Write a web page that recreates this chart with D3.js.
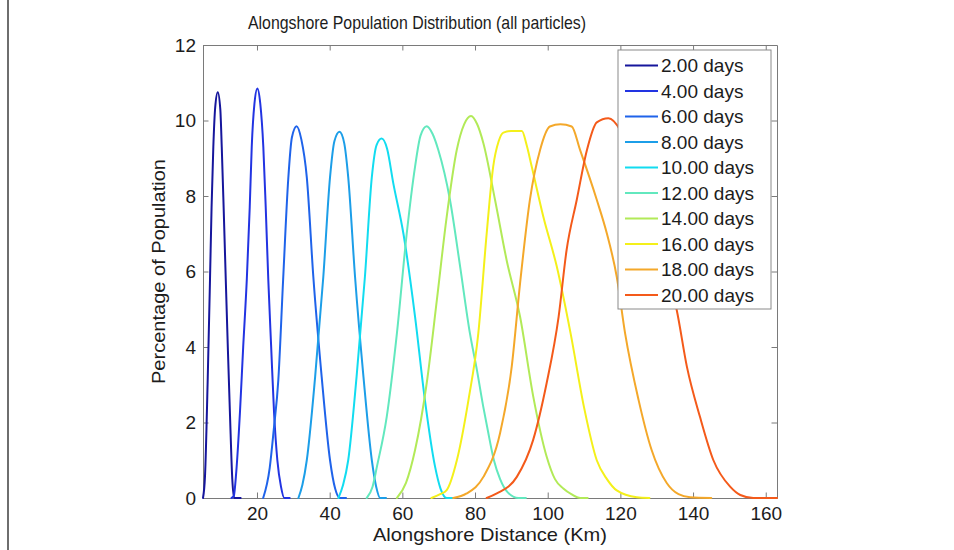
<!DOCTYPE html>
<html>
<head>
<meta charset="utf-8">
<script src="https://cdn.jsdelivr.net/npm/d3@7"></script>
<style>
  html, body { margin: 0; padding: 0; background: #ffffff; }
  svg { display: block; font-family: "Liberation Sans", Arial, Helvetica, sans-serif; }
</style>
</head>
<body>
<svg id="chart" width="954" height="550"></svg>
<script>
// ---- data: alongshore distance (km) and share of population (%) per release age ----
const days = [2, 4, 6, 8, 10, 12, 14, 16, 18, 20];
const colors = ["#16169c", "#2234e2", "#1f63ea", "#1c9ee8", "#12dcf0",
                "#62e8be", "#b2ea58", "#f4f01a", "#f4a82a", "#f45a1a"];
const xTicks = [20, 40, 60, 80, 100, 120, 140, 160];
const yTicks = [0, 2, 4, 6, 8, 10, 12];

const dist02 = [5.14, 5.7, 6.4, 7.07, 7.5, 7.98, 8.5, 9.2, 9.9, 10.3, 10.85, 11.4, 12.0, 12.57, 13.2, 13.7, 15.5];
const pop02  = [0, 0.6, 3.0, 5.8, 7.7, 9.3, 10.35, 10.75, 10.3, 9.3, 7.6, 5.8, 3.9, 2.2, 0.5, 0, 0];

const dist04 = [13.0, 13.6, 14.3, 15.3, 16.2, 17.2, 18.0, 18.55, 19.3, 20.1, 20.9, 21.74, 22.4, 23.1, 23.9, 24.7, 25.6, 26.6, 27.5, 29.0];
const pop04  = [0, 0.05, 0.7, 2.25, 4.0, 5.8, 7.7, 9.3, 10.45, 10.85, 10.45, 9.3, 7.7, 5.8, 4.0, 2.25, 1.0, 0.3, 0, 0];

const dist06 = [21.7, 23.5, 24.6, 25.87, 27.2, 28.6, 29.6, 30.9, 32.2, 33.7, 35.5, 37.8, 40.1, 41.5, 42.8, 44.5];
const pop06  = [0, 0.8, 1.8, 3.13, 5.8, 8.45, 9.55, 9.85, 9.5, 8.5, 5.86, 3.21, 1.0, 0.25, 0, 0];

const dist08 = [31.4, 32.5, 33.7, 36.0, 38.25, 40.1, 41.3, 42.7, 44.0, 45.1, 46.98, 49.3, 51.6, 52.8, 53.9, 55.5];
const pop08  = [0, 0.35, 1.0, 3.21, 5.86, 8.5, 9.45, 9.7, 9.4, 8.5, 5.86, 3.21, 1.0, 0.3, 0, 0];

const dist10 = [42.4, 43.7, 45.1, 47.4, 49.7, 51.6, 52.9, 54.3, 55.8, 57.5, 60.3, 63.5, 66.2, 69.0, 70.5, 72.2, 74.0];
const pop10  = [0, 0.35, 1.0, 3.21, 5.86, 8.5, 9.35, 9.52, 9.25, 8.34, 7.0, 4.8, 2.6, 0.83, 0.25, 0, 0];

const dist12 = [50.2, 51.8, 53.0, 55.7, 58.5, 61.2, 63.5, 65.0, 66.7, 68.3, 69.9, 73.1, 75.9, 78.6, 80.5, 82.3, 83.5, 85.2, 86.9, 89.0, 92.0, 94.0];
const pop12  = [0, 0.3, 0.83, 2.15, 4.36, 7.0, 8.78, 9.6, 9.85, 9.65, 9.22, 7.9, 6.13, 4.36, 3.4, 2.4, 1.8, 1.0, 0.5, 0.15, 0, 0];

const dist14 = [58.5, 61.0, 63.5, 66.7, 69.5, 72.2, 74.97, 77.0, 78.9, 80.6, 82.3, 85.5, 88.7, 92.4, 96.0, 99.7, 102.0, 104.3, 106.5, 109.0, 111.0];
const pop14  = [0, 0.4, 1.27, 3.04, 5.25, 7.45, 9.22, 9.9, 10.12, 9.9, 9.4, 7.9, 6.3, 4.8, 2.7, 1.1, 0.5, 0.25, 0.1, 0, 0];

const dist16 = [68.0, 70.4, 72.2, 75.0, 78.2, 80.9, 83.2, 85.0, 86.5, 87.8, 90.0, 92.9, 94.2, 95.6, 98.8, 102.5, 106.3, 110.0, 113.5, 116.3, 119.0, 124.5, 128.0];
const pop16  = [0, 0.1, 0.21, 1.0, 2.6, 4.36, 7.0, 8.78, 9.45, 9.68, 9.72, 9.72, 9.35, 8.78, 7.45, 6.13, 4.36, 2.4, 1.0, 0.5, 0.2, 0.02, 0];

const dist18 = [74.0, 77.7, 82.3, 86.9, 90.1, 92.4, 95.1, 97.9, 100.6, 103.5, 106.6, 108.9, 113.5, 116.3, 119.0, 121.3, 125.0, 128.6, 132.8, 136.0, 139.2, 145.0];
const pop18  = [0, 0.12, 0.56, 1.72, 3.48, 5.69, 7.9, 9.22, 9.84, 9.9, 9.84, 9.22, 7.9, 7.0, 5.86, 4.36, 2.6, 1.27, 0.39, 0.1, 0.02, 0];

const dist20 = [83.2, 86.0, 91.5, 96.0, 99.7, 103.0, 105.2, 108.0, 110.8, 113.5, 116.7, 119.9, 123.0, 127.0, 131.0, 135.5, 138.3, 141.9, 145.6, 150.2, 153.0, 156.6, 163.1];
const pop20  = [0, 0.12, 0.56, 1.54, 3.04, 4.8, 6.57, 7.9, 9.22, 9.95, 10.06, 9.75, 9.0, 7.8, 6.4, 4.98, 3.48, 2.15, 1.0, 0.3, 0.08, 0, 0];

const distances = [dist02, dist04, dist06, dist08, dist10, dist12, dist14, dist16, dist18, dist20];
const populations = [pop02, pop04, pop06, pop08, pop10, pop12, pop14, pop16, pop18, pop20];

// ---- layout ----
const svg = d3.select("#chart");
const plot = { left: 203, right: 777, top: 45, bottom: 498 };
const x = d3.scaleLinear().domain([5.14, 163.1]).range([plot.left, plot.right]);
const y = d3.scaleLinear().domain([0, 12]).range([plot.bottom, plot.top]);
const axisColor = "#7a7a7a";
const textColor = "#1c1c1c";
const fontSize = 19;

// page frame line on the left
svg.append("line")
  .attr("x1", 8).attr("x2", 8).attr("y1", 0).attr("y2", 550)
  .attr("stroke", "#4a4a4a").attr("stroke-width", 1.6);

// axes box with inward ticks on all four sides
function styleAxis(g) {
  g.select(".domain").attr("stroke", axisColor).attr("stroke-width", 1);
  g.selectAll(".tick line").attr("stroke", axisColor).attr("stroke-width", 1);
  g.selectAll(".tick text").attr("fill", textColor).style("font-size", fontSize + "px");
}

svg.append("g").attr("transform", `translate(0,${plot.bottom})`)
  .call(d3.axisBottom(x).tickValues(xTicks).tickSizeInner(-5.5).tickSizeOuter(0).tickPadding(8.5))
  .call(styleAxis);
svg.append("g").attr("transform", `translate(0,${plot.top})`)
  .call(d3.axisTop(x).tickValues(xTicks).tickSizeInner(-5.5).tickSizeOuter(0).tickFormat(""))
  .call(styleAxis);
svg.append("g").attr("transform", `translate(${plot.left},0)`)
  .call(d3.axisLeft(y).tickValues(yTicks).tickSizeInner(-5.5).tickSizeOuter(0).tickPadding(7))
  .call(styleAxis);
svg.append("g").attr("transform", `translate(${plot.right},0)`)
  .call(d3.axisRight(y).tickValues(yTicks).tickSizeInner(-5.5).tickSizeOuter(0).tickFormat(""))
  .call(styleAxis);

// distribution curves
const line = d3.line()
  .x(d => x(d[0]))
  .y(d => y(d[1]))
  .curve(d3.curveMonotoneX);

svg.append("g").selectAll("path")
  .data(days.map((d, i) => distances[i].map((km, j) => [km, populations[i][j]])))
  .join("path")
  .attr("d", line)
  .attr("fill", "none")
  .attr("stroke", (d, i) => colors[i])
  .attr("stroke-width", 2)
  .attr("stroke-linejoin", "round")
  .attr("stroke-linecap", "round");

// titles
svg.append("text")
  .attr("x", 417).attr("y", 29)
  .attr("text-anchor", "middle")
  .attr("fill", textColor)
  .style("font-size", fontSize + "px")
  .attr("textLength", 338).attr("lengthAdjust", "spacingAndGlyphs")
  .text("Alongshore Population Distribution (all particles)");

svg.append("text")
  .attr("x", (plot.left + plot.right) / 2).attr("y", 541)
  .attr("text-anchor", "middle")
  .attr("fill", textColor)
  .style("font-size", fontSize + "px")
  .attr("textLength", 234).attr("lengthAdjust", "spacingAndGlyphs")
  .text("Alongshore Distance (Km)");

svg.append("text")
  .attr("transform", `translate(165,${(plot.top + plot.bottom) / 2}) rotate(-90)`)
  .attr("text-anchor", "middle")
  .attr("fill", textColor)
  .style("font-size", fontSize + "px")
  .attr("textLength", 225).attr("lengthAdjust", "spacingAndGlyphs")
  .text("Percentage of Population");

// legend
const legend = { x: 618, y: 50, w: 153, h: 259, row0: 65.5, step: 25.5 };
svg.append("rect")
  .attr("x", legend.x).attr("y", legend.y)
  .attr("width", legend.w).attr("height", legend.h)
  .attr("fill", "#ffffff").attr("stroke", "#8a8a8a").attr("stroke-width", 1);

const rows = svg.append("g").selectAll("g")
  .data(days)
  .join("g")
  .attr("transform", (d, i) => `translate(0,${legend.row0 + i * legend.step})`);
rows.append("line")
  .attr("x1", 625).attr("x2", 658)
  .attr("stroke", (d, i) => colors[i]).attr("stroke-width", 2);
rows.append("text")
  .attr("x", 661).attr("dy", "0.36em")
  .attr("fill", textColor)
  .style("font-size", fontSize + "px")
  .text(d => `${d.toFixed(2)} days`);
</script>
</body>
</html>
